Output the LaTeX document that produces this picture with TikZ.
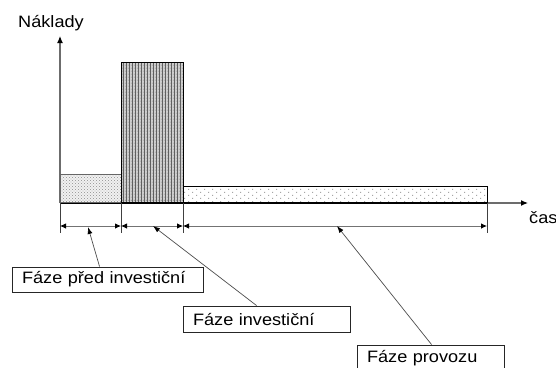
\documentclass[tikz,border=0pt]{standalone}
\usepackage{fontspec}
\setmainfont[FakeStretch=1.1]{Liberation Sans}
\usetikzlibrary{arrows.meta,patterns}

% fine dot fill for the pre-investment block
\pgfdeclarepatternformonly{finedots}{\pgfpoint{-1pt}{-1pt}}{\pgfpoint{4pt}{4pt}}{\pgfpoint{3pt}{3pt}}{%
  \pgfpathrectangle{\pgfpoint{0pt}{0pt}}{\pgfpoint{0.9pt}{0.9pt}}%
  \pgfpathrectangle{\pgfpoint{1.5pt}{1.5pt}}{\pgfpoint{0.9pt}{0.9pt}}%
  \pgfusepath{fill}}
% vertical stripes with dots for the investment block
\pgfdeclarepatternformonly{stripedots}{\pgfpoint{-1pt}{-1pt}}{\pgfpoint{4pt}{4pt}}{\pgfpoint{3pt}{3pt}}{%
  \pgfpathrectangle{\pgfpoint{0pt}{0pt}}{\pgfpoint{0.8pt}{3pt}}%
  \pgfpathrectangle{\pgfpoint{1.8pt}{1.5pt}}{\pgfpoint{0.7pt}{0.7pt}}%
  \pgfusepath{fill}}
% sparse dots for the operating block
\pgfdeclarepatternformonly{sparsedots}{\pgfpoint{-1pt}{-1pt}}{\pgfpoint{9pt}{7pt}}{\pgfpoint{8pt}{6pt}}{%
  \pgfpathrectangle{\pgfpoint{0pt}{0pt}}{\pgfpoint{1pt}{1pt}}%
  \pgfpathrectangle{\pgfpoint{4pt}{3pt}}{\pgfpoint{1pt}{1pt}}%
  \pgfusepath{fill}}

\tikzset{
  axisline/.style={draw=gray!85!black, line width=1.2pt, -{Latex[length=7pt,width=6pt,black]}},
  phasebox/.style={draw=black, line width=0.9pt, anchor=south west, inner sep=0pt},
  tickline/.style={draw=black!75, line width=0.8pt},
  dimline/.style={draw=gray!90!black, line width=0.8pt,
    {Latex[length=6pt,width=5.5pt,black]}-{Latex[length=6pt,width=5.5pt,black]}},
  leader/.style={draw=black!70, line width=0.7pt, -{Latex[length=7pt,width=5pt,black]}},
  labelbox/.style={draw=black!85, line width=0.9pt, inner xsep=10pt, inner ysep=0pt,
    align=left, font=\fontsize{16.5}{18}\selectfont},
  axistext/.style={font=\fontsize{16.5}{18}\selectfont, inner sep=0pt}
}

\begin{document}
\begin{tikzpicture}[x=1pt,y=-1pt]
\useasboundingbox (0,0) rectangle (556,367);
\clip (0,0) rectangle (556,367);

% axes
\coordinate (origin) at (60,203);
\coordinate (ytip) at (60,36);
\coordinate (xtip) at (528,203);
\draw[axisline] (origin) -- (ytip);
\draw[axisline] (origin) -- (xtip);
\node[axistext, anchor=base west] (ylab) at (18,27) {Náklady};
\node[axistext, anchor=base west] (xlab) at (529,223) {čas};

% cost blocks of the three phases
\node[phasebox, draw=gray!80!black, minimum width=61pt, minimum height=28pt,
  preaction={fill=gray!12}, pattern=finedots, pattern color=gray!75] (pre) at (60,203) {};
\node[phasebox, minimum width=62pt, minimum height=140pt,
  preaction={fill=gray!38}, pattern=stripedots, pattern color=gray!75!black] (inv) at (121,203) {};
\node[phasebox, minimum width=304pt, minimum height=16pt,
  preaction={fill=white}, pattern=sparsedots, pattern color=gray!70] (op) at (183,203) {};
\draw[black, line width=0.9pt] (origin) -- (op.south east);

% phase boundaries and duration arrows
\coordinate (t1) at (60,203);  \coordinate (b1) at (60,233);
\coordinate (t2) at (121,203); \coordinate (b2) at (121,233);
\coordinate (t3) at (183,203); \coordinate (b3) at (183,233);
\coordinate (t4) at (487,203); \coordinate (b4) at (487,233);
\foreach \i in {1,...,4} \draw[tickline] (t\i) -- (b\i);
\coordinate (d1) at (60,226);  \coordinate (d2) at (121,226);
\coordinate (d3) at (183,226); \coordinate (d4) at (487,226);
\draw[dimline] (d1) -- (d2);
\draw[dimline] (d2) -- (d3);
\draw[dimline] (d3) -- (d4);

% phase labels
\node[labelbox, minimum width=191pt, minimum height=25pt, text width=171pt] (lpre) at (107.5,279.5) {Fáze před investiční};
\node[labelbox, minimum width=167pt, minimum height=26pt, text width=147pt] (linv) at (266.5,319) {Fáze investiční};
\node[labelbox, minimum width=147pt, minimum height=26pt, text width=127pt] (lop) at (430.5,358) {Fáze provozu};

% leaders from the labels to the durations
\coordinate (apre) at (88,227);
\coordinate (ainv) at (153,226);
\coordinate (aop) at (337,226);
\draw[leader] (lpre.north west) ++(88,0) -- (apre);
\draw[leader] (linv.north west) ++(74,0) -- (ainv);
\draw[leader] (lop.north west) ++(75,0) -- (aop);
\end{tikzpicture}
\end{document}
